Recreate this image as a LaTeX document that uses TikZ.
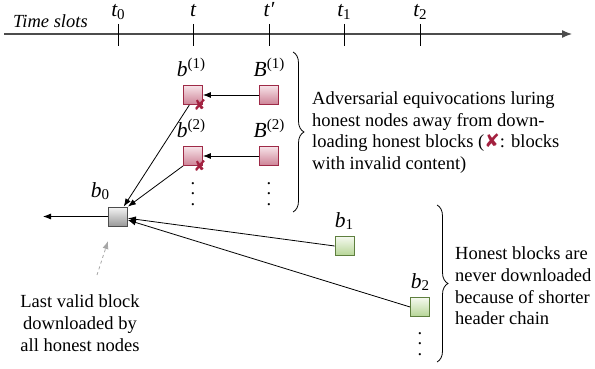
\documentclass[tikz,border=0pt]{standalone}
\usepackage{fontspec}
\setmainfont{Liberation Serif}
\newfontfamily\symfont{DejaVu Sans}
\usetikzlibrary{decorations.pathreplacing, arrows.meta, shadings}

\definecolor{advred}{HTML}{9E2A47}
\definecolor{advtop}{HTML}{F7E3E8}
\definecolor{advbot}{HTML}{CD8296}
\definecolor{hongreen}{HTML}{5E7F3E}
\definecolor{hontop}{HTML}{F5F9EF}
\definecolor{honbot}{HTML}{B6D596}
\definecolor{crossred}{HTML}{A3203F}

\newcommand\supnum[1]{\raisebox{0.4em}{\upshape\fontsize{15}{15}\selectfont #1}}
\newcommand\subnum[1]{\raisebox{-0.12em}{\upshape\fontsize{15}{15}\selectfont #1}}
\newcommand\dotcol{\vbox{\baselineskip=10.5pt\lineskiplimit=-10pt\hbox{.}\hbox{.}\hbox{.}}}

\tikzset{
  block/.style={draw, minimum size=19pt, inner sep=0pt, line width=0.8pt},
  advblock/.style={block, draw=advred, top color=advtop, bottom color=advbot},
  honblock/.style={block, draw=hongreen, top color=hontop, bottom color=honbot},
  baseblock/.style={block, draw=black!70, top color=black!4, bottom color=black!40},
  link/.style={-{Latex[length=8pt,width=6pt]}, line width=0.8pt},
  badmark/.style={text=crossred, font=\symfont\fontsize{15}{15}\selectfont, inner sep=0pt},
  bracket/.style={line width=0.8pt, decorate, decoration={brace, amplitude=11pt}},
  tag/.style={anchor=base, inner sep=0pt, font=\fontsize{21.5}{21.5}\selectfont\itshape},
}

\begin{document}
\begin{tikzpicture}[x=1pt, y=-1pt, font=\fontsize{18.5}{21.7}\selectfont]
        \useasboundingbox (0,0) rectangle (595,369);

        % Time axis
        \draw[line width=1.2pt, black!70, -{Latex[length=10pt,width=8pt]}] (4,34) -- (572,34);
        \node[anchor=base west, inner sep=0pt] (slots) at (13,28) {\itshape Time slots};
        \foreach \x/\lab in {118/{t\subnum{0}}, 193/{t}, 269/{t′}, 344/{t\subnum{1}}, 420/{t\subnum{2}}} {
            \draw[line width=0.8pt] (\x,24) -- (\x,46);
            \node[tag] (tick\x) at (\x,17) {\lab};
        }

        % Adversarial blocks
        \node[advblock] (ba1) at (193,95) {};
        \node[advblock] (Ba1) at (269,95) {};
        \node[advblock] (ba2) at (193,156) {};
        \node[advblock] (Ba2) at (269,156) {};
        \node[badmark] (x1) at ([xshift=-3pt]ba1.south east) {✘};
        \node[badmark] (x2) at ([xshift=-3pt]ba2.south east) {✘};
        \node[inner sep=0pt] (vb) at (193,194) {\dotcol};
        \node[inner sep=0pt] (vB) at (269,194) {\dotcol};

        % Honest blocks
        \node[baseblock] (b0) at (118,216.5) {};
        \node[honblock] (b1) at (344.5,246) {};
        \node[honblock] (b2) at (420,307) {};
        \node[inner sep=0pt] (vh) at (420,344) {\dotcol};
        \coordinate (tail) at (43,216.5);

        % Labels
        \node[tag] (lba1) at (191,77) {b\supnum{(1)}};
        \node[tag] (lBa1) at (269,77) {B\supnum{(1)}};
        \node[tag] (lba2) at (191,138) {b\supnum{(2)}};
        \node[tag] (lBa2) at (269,138) {B\supnum{(2)}};
        \node[tag] (lb0) at (100,197) {b\subnum{0}};
        \node[tag] (lb1) at (344,227) {b\subnum{1}};
        \node[tag] (lb2) at (420,288) {b\subnum{2}};

        % Chains
        \draw[link] (Ba1.west) -- (ba1.east);
        \draw[link] (Ba2.west) -- (ba2.east);
        \draw[link] (ba1.250) -- (b0.60);
        \draw[link] (ba2.south west) -- (b0.north east);
        \draw[link] (b1.west) -- (b0.-10);
        \draw[link] (b2.west) -- (b0.-20);
        \draw[link] (b0.west) -- (tail);

        % Braces and notes
        \draw[bracket] (293,52) -- (293,212);
        \draw[bracket] (437,205) -- (437,362);
        \node[anchor=west, align=left, inner sep=0pt] (advnote) at (312,132.5)
            {Adversarial equivocations luring\\honest nodes away from down-\\loading honest blocks ({\color{crossred}\symfont ✘}: blocks\\with invalid content)};
        \node[anchor=west, align=left, inner sep=0pt] (honnote) at (455,286)
            {Honest blocks are\\never downloaded\\because of shorter\\header chain};
        \node[align=center, inner sep=0pt] (lastnote) at (80,323)
            {Last valid block\\downloaded by\\all honest nodes};
        \coordinate (n1) at (97,275);
        \coordinate (n2) at (108,241);
        \draw[link, dashed, black!35] (n1) -- (n2);
\end{tikzpicture}
\end{document}
